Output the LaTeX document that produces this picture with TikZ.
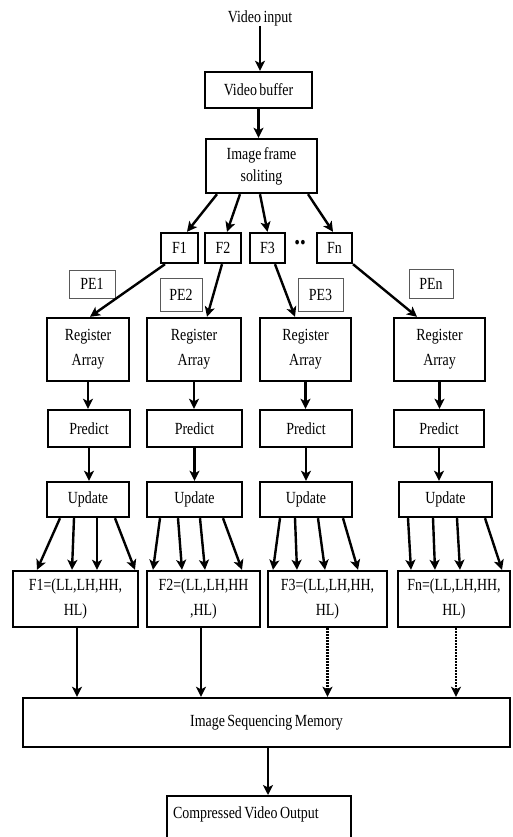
\documentclass[tikz,border=0pt]{standalone}
\usepackage{fontspec}
\setmainfont{Liberation Serif}[FakeStretch=0.82,WordSpace=0.7]
\usetikzlibrary{arrows.meta}
\begin{document}
\begin{tikzpicture}[x=1pt,y=-1pt,
  box/.style={draw, line width=2.4pt, inner sep=0pt, align=center,
    font=\fontsize{17}{22}\selectfont},
  tall/.style={font=\fontsize{17}{25}\selectfont},
  pebox/.style={draw=black!65, line width=1pt, inner sep=0pt,
    font=\fontsize{17}{20}\selectfont},
  arr/.style={line width=2.4pt, -{Stealth[length=10pt,width=10pt,inset=2.5pt]}},
  dotarr/.style={arr, dash pattern=on 2pt off 1pt},
  lbl/.style={inner sep=0pt, font=\fontsize{17}{20}\selectfont}
]
\useasboundingbox (0,0) rectangle (513,837);

% top chain
\node[lbl] (vi) at (260,18) {Video input};
\node[box, minimum width=107, minimum height=36] (vb) at (258.5,90) {Video buffer};
\node[box, minimum width=111, minimum height=54] (ifs) at (261.5,166) {Image frame\\soliting};

% frames
\node[box, minimum width=37, minimum height=30] (f1) at (179.5,248) {F1};
\node[box, minimum width=36, minimum height=30] (f2) at (223,248) {F2};
\node[box, minimum width=35, minimum height=30] (f3) at (267.5,248) {F3};
\node[box, minimum width=35, minimum height=30] (fn) at (334.5,248) {Fn};
\node[lbl, font=\fontsize{28}{30}\bfseries\selectfont] (dots) at (300,243) {..};

% PE labels
\node[pebox, minimum width=46, minimum height=28] (pe1) at (92,284) {PE1};
\node[pebox, minimum width=42, minimum height=33] (pe2) at (181,294.5) {PE2};
\node[pebox, minimum width=45, minimum height=33] (pe3) at (320.5,294.5) {PE3};
\node[pebox, minimum width=44, minimum height=29] (pen) at (431,283.5) {PEn};

% register arrays
\node[box, tall, minimum width=82, minimum height=63] (ra1) at (88,349.5) {Register\\Array};
\node[box, tall, minimum width=94, minimum height=63] (ra2) at (194,349.5) {Register\\Array};
\node[box, tall, minimum width=91, minimum height=63] (ra3) at (305.5,349.5) {Register\\Array};
\node[box, tall, minimum width=91, minimum height=63] (ran) at (439.5,349.5) {Register\\Array};

% predict
\node[box, minimum width=82, minimum height=37] (p1) at (89,428.5) {Predict};
\node[box, minimum width=95, minimum height=37] (p2) at (194.5,428.5) {Predict};
\node[box, minimum width=92, minimum height=37] (p3) at (306,428.5) {Predict};
\node[box, minimum width=90, minimum height=37] (pn) at (439,428.5) {Predict};

% update
\node[box, minimum width=82, minimum height=35] (u1) at (88,499.5) {Update};
\node[box, minimum width=95, minimum height=35] (u2) at (194.5,499.5) {Update};
\node[box, minimum width=92, minimum height=35] (u3) at (306,499.5) {Update};
\node[box, minimum width=93, minimum height=35] (un) at (445.5,499.5) {Update};

% outputs
\node[box, tall, minimum width=125, minimum height=56] (o1) at (75.5,599) {F1=(LL,LH,HH,\\HL)};
\node[box, tall, minimum width=113, minimum height=56] (o2) at (203.5,599) {F2=(LL,LH,HH\\,HL)};
\node[box, tall, minimum width=119, minimum height=56] (o3) at (327.5,599) {F3=(LL,LH,HH,\\HL)};
\node[box, tall, minimum width=112, minimum height=56] (on) at (454,599) {Fn=(LL,LH,HH,\\HL)};

% memory and output
\node[box, minimum width=487, minimum height=49] (ism) at (266.5,722.5) {Image Sequencing Memory};
\node[box, anchor=north, inner xsep=6, inner ysep=8,
  text height=14, text depth=40] (cvo) at (259,795) {\makebox[172pt][l]{Compressed Video Output}};

% arrows top
\draw[arr] (vi.south) -- (vi.south |- vb.north);
\draw[arr] (vb.south) -- (vb.south |- ifs.north);
\draw[arr] ([xshift=-44.5]ifs.south) -- ([xshift=7.5]f1.north);
\draw[arr] ([xshift=-21.5]ifs.south) -- ([xshift=4]f2.north);
\draw[arr] ([xshift=-1.5]ifs.south) -- ([xshift=0]f3.north);
\draw[arr] ([xshift=46.5]ifs.south) -- ([xshift=-1.5]fn.north);

% frames to register arrays
\draw[arr] ([xshift=-14.5]f1.south) -- ([xshift=2]ra1.north);
\draw[arr] ([xshift=-1]f2.south) -- ([xshift=13]ra2.north);
\draw[arr] ([xshift=7.5]f3.south) -- ([xshift=-10.5]ra3.north);
\draw[arr] ([xshift=18.5]fn.south) -- ([xshift=-22.5]ran.north);

% columns
\foreach \a/\b in {ra1/p1, ra2/p2, ra3/p3, ran/pn, p1/u1, p2/u2, p3/u3, pn/un}
  \draw[arr] (\a.south) -- (\a.south |- \b.north);

% update to outputs
\foreach \s/\e in {-28/-38.5, -14/-3.5, 9/21.5, 27/59.5}
  \draw[arr] ([xshift=\s]u1.south) -- ([xshift=\e]o1.north);
\foreach \s/\e in {-34.5/-50.5, -16.5/-21.5, 5.5/1.5, 28.5/38.5}
  \draw[arr] ([xshift=\s]u2.south) -- ([xshift=\e]o2.north);
\foreach \s/\e in {-26/-54.5, -11/-30.5, 12/-2.5, 37/30.5}
  \draw[arr] ([xshift=\s]u3.south) -- ([xshift=\e]o3.north);
\foreach \s/\e in {-37.5/-43, -12.5/-19, 11.5/6, 39.5/48}
  \draw[arr] ([xshift=\s]un.south) -- ([xshift=\e]on.north);

% outputs to memory
\draw[arr] ([xshift=1.5]o1.south) -- ([xshift=1.5]o1.south |- ism.north);
\draw[arr] ([xshift=-2.5]o2.south) -- ([xshift=-2.5]o2.south |- ism.north);
\draw[dotarr] (o3.south) -- (o3.south |- ism.north);
\draw[dotarr] ([xshift=2]on.south) -- ([xshift=2]on.south |- ism.north);

\draw[arr] ([xshift=1.5]ism.south) -- ([xshift=1.5]ism.south |- cvo.north);
\end{tikzpicture}
\end{document}
